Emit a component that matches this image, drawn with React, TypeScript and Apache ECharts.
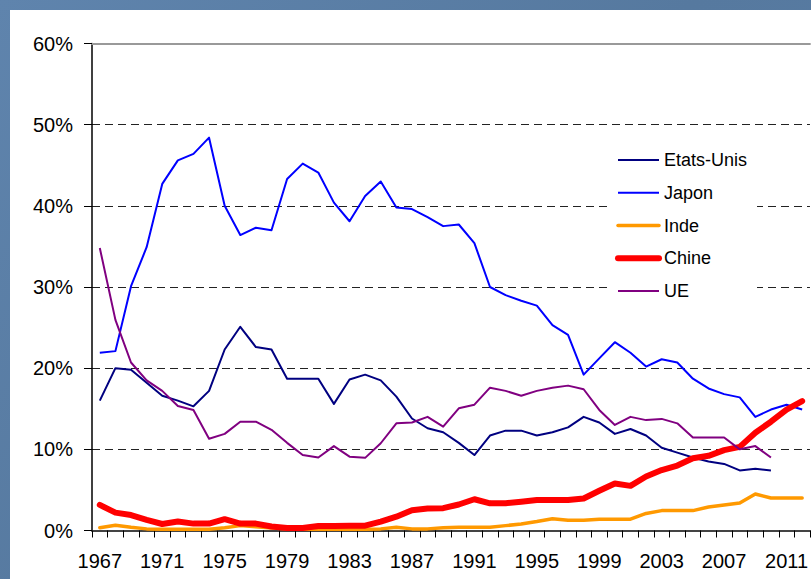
import React, { useEffect, useRef } from "react";
import * as echarts from "echarts";

const years = [
  "1967", "1968", "1969", "1970", "1971", "1972", "1973", "1974", "1975", "1976",
  "1977", "1978", "1979", "1980", "1981", "1982", "1983", "1984", "1985", "1986",
  "1987", "1988", "1989", "1990", "1991", "1992", "1993", "1994", "1995", "1996",
  "1997", "1998", "1999", "2000", "2001", "2002", "2003", "2004", "2005", "2006",
  "2007", "2008", "2009", "2010", "2011", "2012",
];

const etatsUnis = [
  16.0, 20.0, 19.8, 18.2, 16.6, 16.0, 15.3, 17.2, 22.3, 25.1,
  22.6, 22.3, 18.7, 18.7, 18.7, 15.6, 18.6, 19.2, 18.5, 16.5,
  13.8, 12.6, 12.1, 10.8, 9.3, 11.7, 12.3, 12.3, 11.7, 12.1,
  12.7, 14.0, 13.3, 11.9, 12.5, 11.7, 10.2, 9.6, 9.0, 8.5,
  8.2, 7.4, 7.6, 7.4, null, null,
];

const japon = [
  21.9, 22.1, 30.1, 34.9, 42.7, 45.6, 46.4, 48.4, 40.0, 36.4,
  37.3, 37.0, 43.3, 45.2, 44.1, 40.4, 38.1, 41.2, 43.0, 39.8,
  39.6, 38.6, 37.5, 37.7, 35.4, 30.0, 29.0, 28.3, 27.7, 25.3,
  24.1, 19.2, 21.2, 23.2, 21.9, 20.2, 21.1, 20.7, 18.7, 17.5,
  16.8, 16.4, 14.0, 14.9, 15.5, 14.9,
];

const inde = [
  0.35, 0.65, 0.4, 0.2, 0.15, 0.15, 0.15, 0.15, 0.35, 0.6,
  0.45, 0.3, 0.2, 0.15, 0.15, 0.2, 0.15, 0.15, 0.2, 0.4,
  0.2, 0.2, 0.35, 0.4, 0.4, 0.4, 0.6, 0.8, 1.1, 1.45,
  1.25, 1.25, 1.4, 1.4, 1.4, 2.1, 2.45, 2.45, 2.45, 2.9,
  3.15, 3.4, 4.5, 4.0, 4.0, 4.0,
];

const chine = [
  3.15, 2.2, 1.9, 1.3, 0.8, 1.1, 0.85, 0.85, 1.4, 0.85,
  0.85, 0.5, 0.3, 0.3, 0.55, 0.55, 0.6, 0.6, 1.1, 1.7,
  2.5, 2.7, 2.75, 3.2, 3.85, 3.35, 3.35, 3.55, 3.75, 3.75,
  3.75, 3.95, 4.9, 5.8, 5.5, 6.65, 7.45, 8.0, 8.9, 9.2,
  9.9, 10.3, 12.05, 13.4, 14.9, 15.95,
];

const ue = [
  34.8, 25.95, 20.7, 18.5, 17.2, 15.35, 14.85, 11.3, 11.9, 13.4,
  13.4, 12.4, 10.8, 9.3, 9.0, 10.4, 9.1, 8.95, 10.75, 13.2,
  13.3, 14.0, 12.8, 15.05, 15.5, 17.6, 17.2, 16.6, 17.2, 17.6,
  17.85, 17.4, 14.85, 13.0, 14.0, 13.6, 13.75, 13.2, 11.45, 11.45,
  11.45, 10.0, 10.4, 9.0, null, null,
];

const seriesNames = ["Etats-Unis", "Japon", "Inde", "Chine", "UE"];
const seriesColors = ["#000080", "#0000ff", "#ff9900", "#ff0000", "#800080"];
const seriesWidths = [2, 2, 3.5, 6, 2];

const FONT = "'Liberation Sans', Arial, sans-serif";

export default function App() {
  const ref = useRef<HTMLDivElement>(null);

  useEffect(() => {
    if (!ref.current) return;
    const chart = echarts.init(ref.current, null, { renderer: "svg" });

    const allData = [etatsUnis, japon, inde, chine, ue];

    const series = seriesNames.map((name, i) => ({
      name,
      type: "line",
      data: allData[i],
      symbol: "none",
      showSymbol: false,
      connectNulls: false,
      lineStyle: {
        color: seriesColors[i],
        width: seriesWidths[i],
        cap: seriesWidths[i] > 2 ? "round" : "butt",
        join: "round",
      },
      itemStyle: { color: seriesColors[i] },
      emphasis: { disabled: true },
    }));

    chart.setOption({
      animation: false,
      backgroundColor: "transparent",
      textStyle: { fontFamily: FONT },
      grid: { left: 92, top: 43.5, width: 723.6, height: 487, containLabel: false },
      legend: {
        data: seriesNames.map((name, i) => ({
          name,
          lineStyle: {
            color: seriesColors[i],
            width: seriesWidths[i],
            cap: seriesWidths[i] > 2 ? "round" : "butt",
          },
          itemStyle: { opacity: 0, borderWidth: 0 },
        })),
        orient: "vertical",
        left: 607,
        top: 141,
        padding: [10, 10, 10, 8],
        backgroundColor: "#ffffff",
        itemWidth: 41,
        itemHeight: 14,
        itemGap: 14.75,
        itemStyle: { opacity: 0, borderWidth: 0 },
        textStyle: { fontSize: 18, color: "#000", fontFamily: FONT, lineHeight: 18 },
      },
      xAxis: [
        {
          type: "category",
          data: years,
          boundaryGap: true,
          position: "bottom",
          axisLine: { show: true, lineStyle: { color: "#444", width: 2 } },
          axisTick: { show: true, interval: 0, length: 7, lineStyle: { color: "#000", width: 1 } },
          axisLabel: { interval: 3, fontSize: 20, color: "#000", margin: 20, fontFamily: FONT },
          splitLine: { show: false },
        },
        {
          type: "category",
          data: years,
          position: "top",
          axisLine: { show: true, lineStyle: { color: "#999", width: 2 } },
          axisTick: { show: false },
          axisLabel: { show: false },
          splitLine: { show: false },
        },
      ],
      yAxis: {
        type: "value",
        min: 0,
        max: 60,
        interval: 10,
        axisLine: { show: true, lineStyle: { color: "#000", width: 1.5 } },
        axisTick: { show: true, length: 8, lineStyle: { color: "#000", width: 1 } },
        axisLabel: { formatter: "{value}%", fontSize: 20, color: "#000", margin: 19, fontFamily: FONT },
        splitLine: {
          show: true,
          showMinLine: false,
          showMaxLine: false,
          lineStyle: { color: "#222", width: 1, type: [8, 5] },
        },
      },
      series,
    });

    return () => chart.dispose();
  }, []);

  return (
    <div
      style={{
        position: "fixed",
        left: 0,
        top: 0,
        width: 811,
        height: 579,
        overflow: "hidden",
        background: "linear-gradient(135deg, #5f84ad 0%, #56799f 50%, #5a7ea6 100%)",
      }}
    >
      <div
        style={{
          position: "absolute",
          left: 10,
          top: 10,
          width: 801,
          height: 569,
          background: "#ffffff",
        }}
      />
      <div ref={ref} style={{ position: "absolute", left: 0, top: 0, width: 811, height: 579 }} />
    </div>
  );
}
